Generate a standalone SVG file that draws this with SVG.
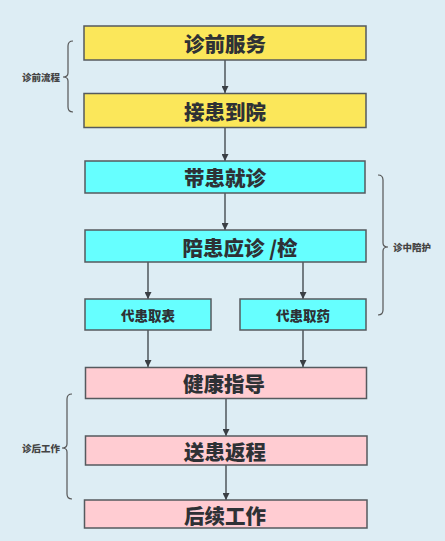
<svg xmlns="http://www.w3.org/2000/svg" width="445" height="541" viewBox="0 0 445 541">
<defs>
<marker id="ah" viewBox="0 0 10 10" refX="10" refY="5" markerWidth="7" markerHeight="7" orient="auto" markerUnits="userSpaceOnUse">
<path d="M0,0 L10,5 L0,10 z" fill="#3a3f44"/>
</marker>
<style>
.box{stroke:#555a5e;stroke-width:1.5}
.y{fill:#fbe75a}
.c{fill:#66ffff}
.p{fill:#ffccd2}
.t{font-family:"Noto Sans CJK SC","Noto Sans",sans-serif;font-weight:900;fill:#2e3135;text-anchor:middle;dominant-baseline:central}
.big{font-size:20.5px}
.mid{font-size:13.5px}
.sm{font-size:9.5px;fill:#444}
.ln{stroke:#3a3f44;stroke-width:1.3;fill:none}
.br{stroke:#555;stroke-width:1.2;fill:none}
</style>
</defs>
<rect width="445" height="541" fill="#ddedf4"/>
<g id="connectors">
<line class="ln" x1="225" y1="60" x2="225" y2="93" marker-end="url(#ah)"/>
<line class="ln" x1="225" y1="128" x2="225" y2="161" marker-end="url(#ah)"/>
<line class="ln" x1="225" y1="193" x2="225" y2="230" marker-end="url(#ah)"/>
<line class="ln" x1="148" y1="262" x2="148" y2="299" marker-end="url(#ah)"/>
<line class="ln" x1="303" y1="262" x2="303" y2="299" marker-end="url(#ah)"/>
<line class="ln" x1="148" y1="330" x2="148" y2="367" marker-end="url(#ah)"/>
<line class="ln" x1="303" y1="330" x2="303" y2="367" marker-end="url(#ah)"/>
<line class="ln" x1="226" y1="398" x2="226" y2="436" marker-end="url(#ah)"/>
<line class="ln" x1="226" y1="465" x2="226" y2="500" marker-end="url(#ah)"/>
</g>
<g id="n1"><rect class="box y" x="84" y="26" width="282" height="34"/><text class="t big" x="225" y="43">诊前服务</text></g>
<g id="n2"><rect class="box y" x="84" y="93.5" width="282" height="34"/><text class="t big" x="225" y="111">接患到院</text></g>
<g id="n3"><rect class="box c" x="85" y="161" width="280" height="32"/><text class="t big" x="225" y="177">带患就诊</text></g>
<g id="n4"><rect class="box c" x="85" y="230" width="281" height="32"/><text class="t big" x="240" y="247" xml:space="preserve">陪患应诊 /检</text></g>
<g id="n5"><rect class="box c" x="85" y="299" width="126" height="31"/><text class="t mid" x="148" y="314.5">代患取表</text></g>
<g id="n6"><rect class="box c" x="240" y="299" width="126" height="31"/><text class="t mid" x="303" y="314.5">代患取药</text></g>
<g id="n7"><rect class="box p" x="85.5" y="367.5" width="281" height="31"/><text class="t big" x="224" y="383">健康指导</text></g>
<g id="n8"><rect class="box p" x="85.5" y="436" width="281.5" height="29"/><text class="t big" x="225" y="451">送患返程</text></g>
<g id="n9"><rect class="box p" x="84.5" y="500" width="282.5" height="28"/><text class="t big" x="225" y="515">后续工作</text></g>
<g id="b1">
<path class="br" d="M73,41 Q68,41 68,46 L68,73 Q68,77 63,77 Q68,77 68,81 L68,107 Q68,112 73,112"/>
<text class="t sm" x="41" y="77">诊前流程</text>
</g>
<g id="b2">
<path class="br" d="M378,175 Q383,175 383,180 L383,243 Q383,247 388,247 Q383,247 383,251 L383,310 Q383,315 378,315"/>
<text class="t sm" x="412" y="247">诊中陪护</text>
</g>
<g id="b3">
<path class="br" d="M72,394 Q67,394 67,399 L67,444 Q67,448 62,448 Q67,448 67,452 L67,494 Q67,499 72,499"/>
<text class="t sm" x="41" y="448">诊后工作</text>
</g>
</svg>
